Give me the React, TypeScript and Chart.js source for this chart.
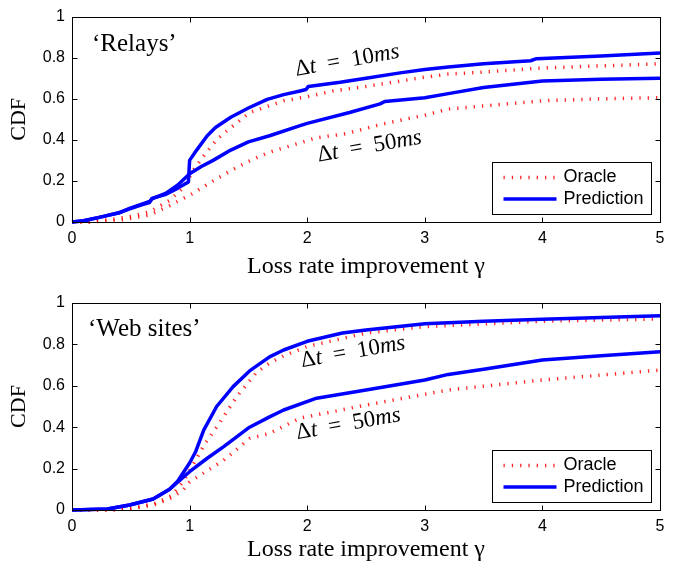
import React, { useEffect, useRef } from "react";
import { Chart, registerables } from "chart.js";
Chart.register(...registerables);

// ---------------- data ----------------
const xTickValues = [0, 1, 2, 3, 4, 5];
const xTickLabels = ["0", "1", "2", "3", "4", "5"];
const yTickValues = [0, 0.2, 0.4, 0.6, 0.8, 1];
const yTickLabels = ["0", "0.2", "0.4", "0.6", "0.8", "1"];
const legendLabels = ["Oracle", "Prediction"];
const panelNames = ["‘Relays’", "‘Web sites’"];
const curveLabels = ["Δt = 10ms", "Δt = 50ms"];
const xAxisTitle = "Loss rate improvement γ";
const yAxisTitle = "CDF";

// Relays
const relaysPred10X = [0, 0.1, 0.26, 0.4, 0.49, 0.6, 0.66, 0.68, 0.8, 0.9, 0.99, 1.0, 1.06, 1.15, 1.22, 1.35, 1.5, 1.66, 1.8, 1.94, 1.99, 2.01, 2.28, 2.5, 2.79, 3.0, 3.2, 3.5, 3.9, 3.95, 4.5, 5.0];
const relaysPred10Y = [0, 0.006, 0.026, 0.045, 0.064, 0.085, 0.095, 0.115, 0.135, 0.165, 0.195, 0.3, 0.35, 0.42, 0.46, 0.51, 0.555, 0.597, 0.62, 0.638, 0.645, 0.66, 0.68, 0.7, 0.726, 0.742, 0.755, 0.77, 0.785, 0.795, 0.808, 0.823];
const relaysOrc10X = [0, 0.15, 0.3, 0.49, 0.66, 0.83, 0.95, 1.03, 1.13, 1.23, 1.32, 1.51, 1.8, 2.0, 2.22, 2.5, 2.79, 3.0, 3.2, 3.5, 4.0, 4.5, 5.0];
const relaysOrc10Y = [0, 0, 0.01, 0.026, 0.05, 0.105, 0.17, 0.25, 0.33, 0.4, 0.445, 0.533, 0.59, 0.61, 0.638, 0.66, 0.686, 0.705, 0.72, 0.73, 0.75, 0.76, 0.77];
const relaysPred50X = [0, 0.1, 0.26, 0.4, 0.49, 0.6, 0.66, 0.68, 0.8, 0.9, 1.0, 1.1, 1.2, 1.35, 1.5, 1.68, 1.94, 2.0, 2.36, 2.62, 2.66, 3.0, 3.2, 3.5, 4.0, 4.5, 5.0];
const relaysPred50Y = [0, 0.006, 0.026, 0.045, 0.066, 0.088, 0.1, 0.112, 0.14, 0.18, 0.235, 0.27, 0.3, 0.35, 0.39, 0.42, 0.469, 0.48, 0.533, 0.575, 0.587, 0.605, 0.625, 0.655, 0.686, 0.695, 0.7];
const relaysOrc50X = [0, 0.15, 0.4, 0.66, 0.83, 1.0, 1.2, 1.35, 1.5, 1.68, 2.08, 2.33, 2.64, 3.0, 3.2, 3.5, 4.0, 4.5, 5.0];
const relaysOrc50Y = [0, 0, 0.008, 0.034, 0.08, 0.13, 0.2, 0.25, 0.295, 0.34, 0.41, 0.43, 0.477, 0.52, 0.55, 0.565, 0.59, 0.6, 0.605];

// Web sites
const webPred10X = [0, 0.3, 0.49, 0.69, 0.83, 0.9, 1.0, 1.05, 1.12, 1.23, 1.37, 1.51, 1.68, 1.8, 2.0, 2.3, 2.5, 3.0, 3.5, 4.0, 4.5, 5.0];
const webPred10Y = [0, 0.005, 0.024, 0.053, 0.1, 0.14, 0.227, 0.28, 0.386, 0.5, 0.596, 0.672, 0.74, 0.773, 0.815, 0.855, 0.87, 0.9, 0.912, 0.922, 0.93, 0.938];
const webOrc10X = [0, 0.3, 0.5, 0.7, 0.85, 0.95, 1.03, 1.13, 1.23, 1.4, 1.57, 1.68, 1.8, 2.0, 2.5, 3.0, 4.0, 5.0];
const webOrc10Y = [0, 0, 0.008, 0.03, 0.07, 0.14, 0.22, 0.32, 0.4, 0.547, 0.665, 0.71, 0.745, 0.79, 0.855, 0.886, 0.912, 0.923];
const webPred50X = [0, 0.3, 0.49, 0.69, 0.83, 0.9, 1.0, 1.15, 1.29, 1.51, 1.68, 1.8, 2.08, 2.5, 3.0, 3.2, 3.5, 4.0, 4.5, 5.0];
const webPred50Y = [0, 0.005, 0.024, 0.053, 0.1, 0.135, 0.185, 0.25, 0.306, 0.4, 0.45, 0.483, 0.54, 0.58, 0.628, 0.655, 0.68, 0.725, 0.745, 0.765];
const webOrc50X = [0, 0.35, 0.5, 0.7, 0.85, 0.95, 1.0, 1.15, 1.29, 1.51, 1.68, 1.94, 2.5, 3.2, 4.0, 5.0];
const webOrc50Y = [0, 0, 0.006, 0.025, 0.06, 0.1, 0.135, 0.19, 0.24, 0.345, 0.37, 0.444, 0.507, 0.58, 0.628, 0.676];

// ---------------- helpers ----------------
const pts = (xs: number[], ys: number[]) => xs.map((x, i) => ({ x, y: ys[i] }));

const BLUE = "#0000ff";
const RED = "rgba(255,0,0,0.85)";
const SERIF = '"Liberation Serif", "Times New Roman", serif';
const SANS = '"Liberation Sans", Arial, sans-serif';

function predDs(data: any) {
  return {
    data,
    borderColor: BLUE,
    borderWidth: 3.5,
    pointRadius: 0,
    tension: 0,
    borderJoinStyle: "round",
    clip: 3,
  };
}
function orcDs(data: any) {
  return {
    data,
    borderColor: RED,
    borderWidth: 3.5,
    borderDash: [1.3, 7],
    borderCapStyle: "butt",
    pointRadius: 0,
    tension: 0,
    clip: 3,
  };
}

function drawMath(ctx: CanvasRenderingContext2D, text: string, cx: number, cy: number, angle: number, size: number) {
  const runs: { t: string; it: boolean; sp: boolean }[] = [];
  for (const ch of text) {
    const sp = ch === " ";
    const it = /[a-z]/.test(ch);
    const last = runs[runs.length - 1];
    if (last && last.it === it && last.sp === sp) last.t += ch;
    else runs.push({ t: ch, it, sp });
  }
  const fontOf = (it: boolean) => `${it ? "italic " : ""}${size}px ${SERIF}`;
  let total = 0;
  const widths = runs.map((r) => {
    ctx.font = fontOf(r.it);
    const w = r.sp ? r.t.length * size * 0.5 : ctx.measureText(r.t).width;
    total += w;
    return w;
  });
  ctx.save();
  ctx.translate(cx, cy);
  ctx.rotate((angle * Math.PI) / 180);
  ctx.fillStyle = "#000";
  ctx.textBaseline = "middle";
  ctx.textAlign = "left";
  let x = -total / 2;
  runs.forEach((r, i) => {
    ctx.font = fontOf(r.it);
    if (!r.sp) ctx.fillText(r.t, x, 0);
    x += widths[i];
  });
  ctx.restore();
}

type PanelCfg = {
  top: number;
  padTop: number;
  xAxisH: number;
  titlePadBottom: number;
  name: string;
  nameDx: number;
  nameDy: number;
  pred10: any;
  orc10: any;
  pred50: any;
  orc50: any;
  labelPos: number[][];
};

function Panel({ cfg }: { cfg: PanelCfg }) {
  const ref = useRef<HTMLCanvasElement>(null);
  useEffect(() => {
    const frame = {
      id: "frame",
      afterDraw(chart: any) {
        const { ctx, chartArea: a, scales } = chart;
        ctx.save();
        ctx.strokeStyle = "#000";
        ctx.lineWidth = 1;
        const L = Math.round(a.left) + 0.5, R = Math.round(a.right) + 0.5;
        const T = Math.round(a.top) + 0.5, B = Math.round(a.bottom) + 0.5;
        ctx.strokeRect(L, T, R - L, B - T);
        ctx.beginPath();
        for (const v of xTickValues) {
          const px = Math.round(scales.x.getPixelForValue(v)) + 0.5;
          ctx.moveTo(px, B); ctx.lineTo(px, B - 5);
          ctx.moveTo(px, T); ctx.lineTo(px, T + 5);
        }
        for (const v of yTickValues) {
          const py = Math.round(scales.y.getPixelForValue(v)) + 0.5;
          ctx.moveTo(L, py); ctx.lineTo(L + 5, py);
          ctx.moveTo(R, py); ctx.lineTo(R - 5, py);
        }
        ctx.stroke();

        // panel name
        ctx.fillStyle = "#000";
        ctx.font = `25px ${SERIF}`;
        ctx.textBaseline = "alphabetic";
        ctx.textAlign = "left";
        ctx.fillText(cfg.name, a.left + cfg.nameDx, a.top + cfg.nameDy);

        // curve labels
        curveLabels.forEach((t, i) => {
          const [dx, dy] = cfg.labelPos[i];
          drawMath(ctx, t, scales.x.getPixelForValue(dx), scales.y.getPixelForValue(dy), -10, 23);
        });

        // legend
        const bw = 159, bh = 52;
        const bx = Math.round(a.right) - 9 - bw + 0.5;
        const by = Math.round(a.bottom) - 8 - bh + 0.5;
        ctx.fillStyle = "#fff";
        ctx.fillRect(bx, by, bw, bh);
        ctx.strokeStyle = "#000";
        ctx.lineWidth = 1;
        ctx.strokeRect(bx, by, bw, bh);
        const rows = [by + 15, by + 36.5];
        ctx.save();
        ctx.strokeStyle = RED;
        ctx.lineWidth = 3.5;
        ctx.setLineDash([1.3, 7]);
        ctx.lineCap = "butt";
        ctx.beginPath();
        ctx.moveTo(bx + 11, rows[0]); ctx.lineTo(bx + 63, rows[0]);
        ctx.stroke();
        ctx.restore();
        ctx.save();
        ctx.strokeStyle = BLUE;
        ctx.lineWidth = 3.5;
        ctx.beginPath();
        ctx.moveTo(bx + 11, rows[1]); ctx.lineTo(bx + 64, rows[1]);
        ctx.stroke();
        ctx.restore();
        ctx.fillStyle = "#000";
        ctx.font = `18px ${SANS}`;
        ctx.textBaseline = "middle";
        ctx.fillText(legendLabels[0], bx + 71, rows[0]);
        ctx.fillText(legendLabels[1], bx + 71, rows[1]);
        ctx.restore();
      },
    };

    const chart = new Chart(ref.current as HTMLCanvasElement, {
      type: "line",
      data: {
        datasets: [
          predDs(cfg.pred10),
          predDs(cfg.pred50),
          orcDs(cfg.orc10),
          orcDs(cfg.orc50),
        ] as any,
      },
      options: {
        animation: false,
        responsive: false,
        maintainAspectRatio: false,
        layout: { padding: { top: cfg.padTop, right: 16, left: 0, bottom: 0 } },
        plugins: { legend: { display: false }, tooltip: { enabled: false } },
        scales: {
          x: {
            type: "linear",
            min: 0,
            max: 5,
            afterBuildTicks: (s: any) => { s.ticks = xTickValues.map((v) => ({ value: v })); },
            ticks: {
              callback: (_v: any, i: number) => xTickLabels[i],
              color: "#000",
              font: { family: SANS, size: 16 },
              padding: 7,
              maxRotation: 0,
            },
            grid: { display: false, drawTicks: false },
            border: { display: false },
            title: {
              display: true,
              text: xAxisTitle,
              color: "#000",
              font: { family: SERIF, size: 24 },
              padding: { top: 0, bottom: cfg.titlePadBottom },
            },
            afterFit: (s: any) => { s.height = cfg.xAxisH; },
          },
          y: {
            type: "linear",
            min: 0,
            max: 1,
            afterBuildTicks: (s: any) => { s.ticks = yTickValues.map((v) => ({ value: v })); },
            ticks: {
              callback: (_v: any, i: number) => yTickLabels[i],
              color: "#000",
              font: { family: SANS, size: 16 },
              padding: 7,
            },
            grid: { display: false, drawTicks: false },
            border: { display: false },
            title: {
              display: true,
              text: yAxisTitle,
              color: "#000",
              font: { family: SERIF, size: 22 },
              padding: { top: 6, bottom: 0 },
            },
            afterFit: (s: any) => { s.width = 72; },
          },
        },
      } as any,
      plugins: [frame],
    });
    return () => chart.destroy();
  }, []);
  return (
    <div style={{ position: "absolute", left: 0, top: cfg.top, width: 676, height: 284 }}>
      <canvas ref={ref} width={676} height={284} style={{ width: 676, height: 284, display: "block" }} />
    </div>
  );
}

const panels: PanelCfg[] = [
  {
    top: 0,
    padTop: 15,
    xAxisH: 62,
    titlePadBottom: 3,
    name: panelNames[0],
    nameDx: 20,
    nameDy: 34,
    pred10: pts(relaysPred10X, relaysPred10Y),
    orc10: pts(relaysOrc10X, relaysOrc10Y),
    pred50: pts(relaysPred50X, relaysPred50Y),
    orc50: pts(relaysOrc50X, relaysOrc50Y),
    labelPos: [[2.34, 0.785], [2.53, 0.367]],
  },
  {
    top: 284,
    padTop: 19,
    xAxisH: 58,
    titlePadBottom: 4,
    name: panelNames[1],
    nameDx: 16,
    nameDy: 33,
    pred10: pts(webPred10X, webPred10Y),
    orc10: pts(webOrc10X, webOrc10Y),
    pred50: pts(webPred50X, webPred50Y),
    orc50: pts(webOrc50X, webOrc50Y),
    labelPos: [[2.39, 0.763], [2.35, 0.415]],
  },
];

export default function App() {
  return (
    <div style={{ position: "absolute", left: 0, top: 0, width: 676, height: 568, background: "#fff" }}>
      {panels.map((p, i) => (
        <Panel key={i} cfg={p} />
      ))}
    </div>
  );
}
